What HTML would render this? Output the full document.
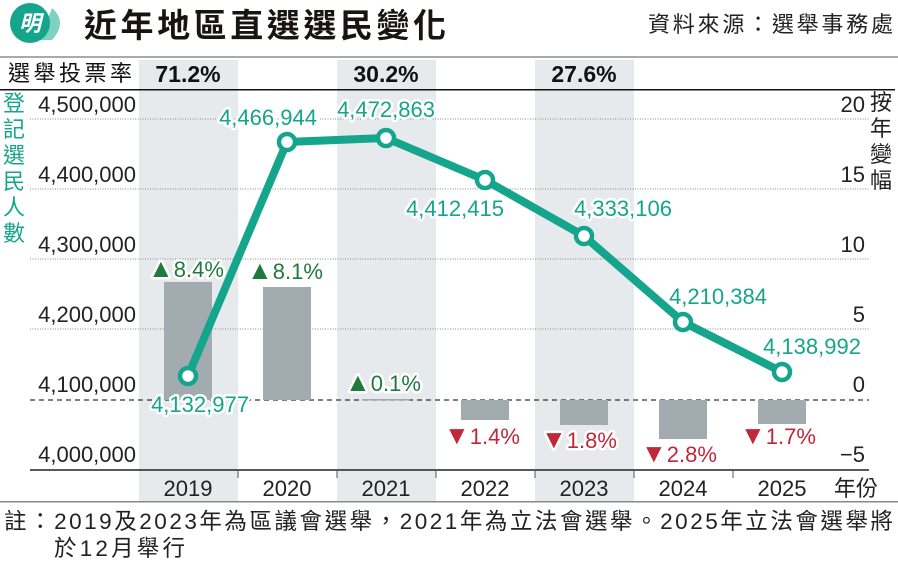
<!DOCTYPE html>
<html><head><meta charset="utf-8"><style>
body{margin:0;background:#fff}
svg{display:block}
text{font-family:"Liberation Sans","Noto Sans CJK TC",sans-serif}
.h{paint-order:stroke;stroke:#fff;stroke-width:5px;stroke-linejoin:round}
</style></head><body>
<svg width="898" height="563" viewBox="0 0 898 563" xmlns="http://www.w3.org/2000/svg">
<path d="M52 8 Q68 22 52 40 L40 40 Z" fill="#7fd1c2"/>
<circle cx="30" cy="23" r="20" fill="#14a58c"/>
<text x="30" y="31" font-size="22" font-weight="bold" fill="#fff" text-anchor="middle" font-style="italic">明</text>
<text x="84" y="37" font-size="33" font-weight="bold" fill="#1a1410" textLength="362" lengthAdjust="spacing">近年地區直選選民變化</text>
<text x="648" y="32" font-size="22" fill="#222" textLength="245" lengthAdjust="spacing">資料來源：選舉事務處</text>
<rect x="0" y="56" width="898" height="2" fill="#aaa"/>
<rect x="139" y="60" width="99" height="441" fill="#e6eaec"/>
<rect x="337" y="60" width="99" height="441" fill="#e6eaec"/>
<rect x="535" y="60" width="99" height="441" fill="#e6eaec"/>
<text x="8" y="81" font-size="22" fill="#111" textLength="124" lengthAdjust="spacing">選舉投票率</text>
<text x="188" y="82" font-size="23" font-weight="bold" fill="#111" text-anchor="middle">71.2%</text>
<text x="386" y="82" font-size="23" font-weight="bold" fill="#111" text-anchor="middle">30.2%</text>
<text x="584" y="82" font-size="23" font-weight="bold" fill="#111" text-anchor="middle">27.6%</text>
<rect x="0" y="89" width="895" height="1.5" fill="#111"/>
<g stroke="#888" stroke-width="1" stroke-dasharray="1,1.5">
<line x1="30" y1="119" x2="869" y2="119"/>
<line x1="30" y1="189" x2="869" y2="189"/>
<line x1="30" y1="259" x2="869" y2="259"/>
<line x1="30" y1="329" x2="869" y2="329"/>
</g>
<line x1="30" y1="400" x2="869" y2="400" stroke="#333" stroke-width="1.3" stroke-dasharray="5,4"/>
<line x1="30" y1="470" x2="869" y2="470" stroke="#222" stroke-width="1.5"/>
<g stroke="#555" stroke-width="1"><line x1="238" y1="470" x2="238" y2="478"/><line x1="337" y1="470" x2="337" y2="478"/><line x1="436" y1="470" x2="436" y2="478"/><line x1="535" y1="470" x2="535" y2="478"/><line x1="634" y1="470" x2="634" y2="478"/><line x1="733" y1="470" x2="733" y2="478"/></g>
<rect x="0" y="501" width="898" height="1.5" fill="#888"/>
<g font-size="22" fill="#222" text-anchor="end">
<text x="136" y="112">4,500,000</text><text x="136" y="182">4,400,000</text><text x="136" y="252">4,300,000</text><text x="136" y="322">4,200,000</text><text x="136" y="392">4,100,000</text><text x="136" y="462">4,000,000</text>
</g>
<g font-size="22" fill="#14a58c"><text x="3" y="111">登</text><text x="3" y="137">記</text><text x="3" y="163">選</text><text x="3" y="189">民</text><text x="3" y="215">人</text><text x="3" y="241">數</text></g>
<g font-size="22" fill="#222" text-anchor="end">
<text x="865" y="112">20</text><text x="865" y="182">15</text><text x="865" y="252">10</text><text x="865" y="322">5</text><text x="865" y="392">0</text><text x="865" y="462">−5</text>
</g>
<g font-size="22" fill="#222"><text x="870" y="110">按</text><text x="870" y="136">年</text><text x="870" y="162">變</text><text x="870" y="188">幅</text></g>
<g font-size="22" fill="#222" text-anchor="middle">
<text x="188" y="496">2019</text><text x="287" y="496">2020</text><text x="386" y="496">2021</text><text x="485" y="496">2022</text><text x="584" y="496">2023</text><text x="683" y="496">2024</text><text x="782" y="496">2025</text>
</g>
<text x="834" y="496" font-size="22" fill="#222">年份</text>
<g fill="#a2abaf">
<rect x="164" y="282" width="48" height="118"/>
<rect x="263" y="287" width="48" height="113"/>
<rect x="362" y="399" width="48" height="1.5"/>
<rect x="461" y="400" width="48" height="20"/>
<rect x="560" y="400" width="48" height="25"/>
<rect x="659" y="400" width="48" height="39"/>
<rect x="758" y="400" width="48" height="24"/>
</g>
<polyline points="188,376 287,142 386,138 485,180 584,236 683,322 782,372" fill="none" stroke="#14a58c" stroke-width="8" stroke-linejoin="round"/>
<g fill="#fff" stroke="#14a58c" stroke-width="4.5">
<circle cx="188" cy="376" r="8"/><circle cx="287" cy="142" r="8"/><circle cx="386" cy="138" r="8"/><circle cx="485" cy="180" r="8"/><circle cx="584" cy="236" r="8"/><circle cx="683" cy="322" r="8"/><circle cx="782" cy="372" r="8"/>
</g>
<g font-size="22" fill="#14a58c" text-anchor="middle" class="h">
<text x="200" y="412">4,132,977</text>
<text x="268" y="125">4,466,944</text>
<text x="386" y="117">4,472,863</text>
<text x="455" y="216">4,412,415</text>
<text x="623" y="216">4,333,106</text>
<text x="718" y="304">4,210,384</text>
<text x="812" y="354">4,138,992</text>
</g>
<g font-size="22" class="h">
<text x="148" y="277" fill="#1f7a3c"><tspan font-size="26">▲</tspan>8.4%</text>
<text x="247" y="279" fill="#1f7a3c"><tspan font-size="26">▲</tspan>8.1%</text>
<text x="345" y="391" fill="#1f7a3c"><tspan font-size="26">▲</tspan>0.1%</text>
<text x="444" y="444" fill="#c0283a"><tspan font-size="26">▼</tspan>1.4%</text>
<text x="541" y="448" fill="#c0283a"><tspan font-size="26">▼</tspan>1.8%</text>
<text x="641" y="462" fill="#c0283a"><tspan font-size="26">▼</tspan>2.8%</text>
<text x="740" y="444" fill="#c0283a"><tspan font-size="26">▼</tspan>1.7%</text>
</g>
<text x="4" y="529" font-size="22.5" fill="#222" textLength="889" lengthAdjust="spacing">註：2019及2023年為區議會選舉，2021年為立法會選舉。2025年立法會選舉將</text>
<text x="54" y="556" font-size="22.5" fill="#222" textLength="131" lengthAdjust="spacing">於12月舉行</text>
</svg>
</body></html>
